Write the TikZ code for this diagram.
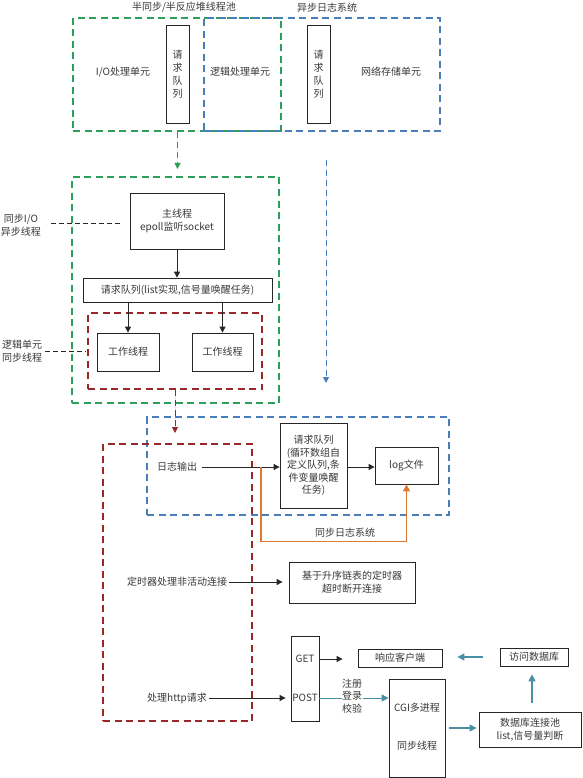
\documentclass[tikz,border=0pt]{standalone}
\usepackage{fontspec}
\setmainfont{Noto Sans CJK SC}
\usetikzlibrary{arrows.meta,calc}
\definecolor{cgreen}{RGB}{44,160,90}
\definecolor{cblue}{RGB}{74,126,187}
\definecolor{cred}{RGB}{155,40,40}
\definecolor{corange}{RGB}{221,121,52}
\definecolor{cteal}{RGB}{74,144,164}
\begin{document}
\begin{tikzpicture}[x=1pt,y=-1pt,
  font=\fontsize{10}{13}\selectfont, text=black!78,
  box/.style={draw=black!85, line width=0.8pt, inner sep=0pt, align=center},
  frame/.style={line width=1.3pt, dash pattern=on 7pt off 4.5pt, inner sep=0pt},
  txt/.style={align=center, inner sep=2pt},
  blk/.style={draw=black!85, line width=0.9pt, -{Triangle[length=6pt,width=6pt]}},
  teal/.style={draw=cteal, line width=1.4pt, -{Triangle[length=7pt,width=7pt]}},
  dconn/.style={line width=1pt, dash pattern=on 6pt off 4pt, -{Triangle[length=6pt,width=6pt]}},
  sideline/.style={draw=black!85, line width=0.9pt, dash pattern=on 5pt off 3pt}
]
\useasboundingbox (0,0) rectangle (582,778);

% top frames
\node[frame, draw=cgreen, minimum width=208pt, minimum height=113pt] (gtop) at (177,74.5) {};
\node[frame, draw=cblue, minimum width=236pt, minimum height=113pt] (btop) at (322,74.5) {};
\node[box, minimum width=23pt, minimum height=98pt, fill=white] (q1) at (177.5,74) {请\\求\\队\\列};
\node[box, minimum width=23pt, minimum height=98pt, fill=white] (q2) at (318.5,74) {请\\求\\队\\列};
\node[txt] (t1) at (184,7) {半同步/半反应堆线程池};
\node[txt] (t2) at (327,8) {异步日志系统};
\node[txt] (io) at (123,72) {I/O处理单元};
\node[txt] (logic) at (240,72) {逻辑处理单元};
\node[txt] (net) at (391,72) {网络存储单元};

% connectors from top
\coordinate (gtip) at (177.5,169);
\draw[dconn, draw=cgreen, fill=cgreen] (gtop.south -| q1.center) -- (gtip);
\coordinate (bstart) at (326,160);
\coordinate (btip) at (326,383);
\draw[dconn, draw=cblue, fill=cblue] (bstart) -- (btip);

% middle frame
\node[frame, draw=cgreen, minimum width=207pt, minimum height=226pt] (gmid) at (175.5,290) {};
\node[box, minimum width=94pt, minimum height=56pt] (main) at (177,221) {主线程\\epoll监听socket};
\node[box, minimum width=189pt, minimum height=24pt] (queue) at (177.5,290) {请求队列(list实现,信号量唤醒任务)};
\node[frame, draw=cred, minimum width=174pt, minimum height=76pt] (rmid) at (175,351) {};
\node[box, minimum width=62pt, minimum height=38pt] (w1) at (128,352) {工作线程};
\node[box, minimum width=61pt, minimum height=38pt] (w2) at (222.5,352) {工作线程};
\draw[blk] (main.south) -- (queue.north -| main.south);
\draw[blk] (queue.south -| w1.north) -- (w1.north);
\draw[blk] (queue.south -| w2.north) -- (w2.north);

\node[txt, inner sep=1pt] (side1) at (21,225) {同步I/O\\异步线程};
\node[txt, inner sep=1pt] (side2) at (22,351) {逻辑单元\\同步线程};
\draw[sideline, shorten <=9pt, shorten >=8pt] (side1.east |- 0,223) -- (main.west |- 0,223);
\draw[sideline, shorten <=2pt, shorten >=1pt] (side2.east) -- (rmid.west);

\coordinate (rtip) at (175,433);
\draw[dconn, draw=cred, fill=cred] (rmid.south) -- (rtip);

% log system frame
\node[frame, draw=cblue, minimum width=302pt, minimum height=98pt] (bbot) at (298,466) {};
\node[frame, draw=cred, minimum width=149pt, minimum height=277pt] (rbig) at (177.5,582.5) {};
\node[txt] (logout) at (177,467) {日志输出};
\node[box, minimum width=67pt, minimum height=85pt, fill=white, font=\fontsize{10}{12.5}\selectfont] (q3) at (313.5,465.5) {请求队列\\(循环数组自\\定义队列,条\\件变量唤醒\\任务)};
\node[box, minimum width=63pt, minimum height=37pt, fill=white] (log) at (406.5,465.5) {log文件};
\draw[blk, shorten <=3pt] (logout.east |- 0,467) -- (q3.west |- 0,467);
\draw[blk] (q3.east |- 0,467) -- (log.west |- 0,467);
\coordinate (ojoin) at (261,467);
\draw[draw=corange, line width=1.3pt, -{Triangle[length=7pt,width=7pt]}] (ojoin) |- ($(log.south)+(0,57)$) -- (log.south);
\node[txt] (synclab) at (345,533) {同步日志系统};

% timer
\node[txt] (timertxt) at (177,582) {定时器处理非活动连接};
\node[box, minimum width=126pt, minimum height=41pt] (timer) at (352,582.5) {基于升序链表的定时器\\超时断开连接};
\draw[blk, shorten >=6pt] (timertxt.east) -- (timer.west |- timertxt.east);

% http
\node[box, minimum width=28pt, minimum height=85pt] (gp) at (305,678.5) {};
\node[txt, inner sep=1pt] (get) at (305,659) {GET};
\node[txt, inner sep=1pt] (post) at (305,698) {POST};
\node[txt] (http) at (177,698) {处理http请求};
\draw[blk, shorten >=5pt] (http.east) -- (gp.west |- http.east);
\node[box, minimum width=84pt, minimum height=18pt] (resp) at (400,658) {响应客户端};
\node[box, minimum width=68pt, minimum height=18pt] (dba) at (534,657) {访问数据库};
\draw[blk, shorten >=15pt] (gp.east |- get) -- (resp.west |- get);
\node[box, minimum width=56pt, minimum height=98pt] (cgi) at (417,728) {};
\node[txt] (cgi1) at (417,708) {CGI多进程};
\node[txt] (cgi2) at (417,746) {同步线程};
\node[box, minimum width=102pt, minimum height=35pt] (pool) at (530,729.5) {数据库连接池\\list,信号量判断};
\draw[teal, line width=1pt] (gp.east |- post) -- (cgi.west |- post);
\node[txt, fill=white, inner sep=0.5pt, font=\fontsize{10}{12.5}\selectfont] (reg) at (352,696) {注册\\登录\\校验};
\draw[teal, shorten <=17pt, shorten >=15pt] (dba.west) -- (resp.east |- dba.west);
\draw[teal, shorten <=4pt, shorten >=2pt] (cgi.east |- 0,728) -- (pool.west |- 0,728);
\draw[teal, shorten <=9pt, shorten >=8pt] (pool.north -| 532,0) -- (dba.south -| 532,0);
\end{tikzpicture}
\end{document}
